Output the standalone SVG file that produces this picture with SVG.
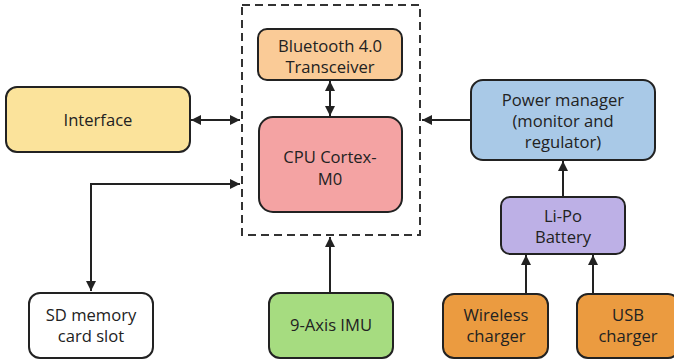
<svg xmlns="http://www.w3.org/2000/svg" width="674" height="360" viewBox="0 0 674 360">
<style>
.box{stroke:#222;stroke-width:2}
.t{font-family:"Open Sans","Noto Sans",sans-serif;font-size:16.6px;fill:#222;text-anchor:middle}
.c{stroke:#222;stroke-width:2;fill:none}
</style>
<defs>
<marker id="ah" viewBox="0 0 10 10" refX="10" refY="5" markerWidth="5" markerHeight="5" orient="auto-start-reverse" markerUnits="strokeWidth">
<path d="M0,0 L10,5 L0,10 z" fill="#222"/>
</marker>
</defs>
<rect width="674" height="360" fill="#fff"/>
<g id="mcu-boundary">
<rect x="242" y="5" width="178" height="230" fill="none" stroke="#333" stroke-width="2" stroke-dasharray="8,5"/>
</g>
<g id="connectors">
<line class="c" x1="191" y1="120" x2="240" y2="120" marker-start="url(#ah)" marker-end="url(#ah)"/>
<line class="c" x1="330" y1="81" x2="330" y2="116" marker-start="url(#ah)" marker-end="url(#ah)"/>
<line class="c" x1="470" y1="120" x2="422" y2="120" marker-end="url(#ah)"/>
<polyline class="c" points="240,184 91,184 91,291" marker-start="url(#ah)" marker-end="url(#ah)"/>
<line class="c" x1="330" y1="292" x2="330" y2="237" marker-end="url(#ah)"/>
<line class="c" x1="563" y1="196" x2="563" y2="161" marker-end="url(#ah)"/>
<line class="c" x1="526" y1="293" x2="526" y2="255" marker-end="url(#ah)"/>
<line class="c" x1="593" y1="293" x2="593" y2="255" marker-end="url(#ah)"/>
</g>
<g id="bluetooth">
<rect class="box" x="258" y="29" width="144" height="51" rx="9" fill="#FACB97"/>
<text class="t" x="330" y="52">Bluetooth 4.0</text>
<text class="t" x="330" y="73">Transceiver</text>
</g>
<g id="cpu">
<rect class="box" x="259" y="117" width="143" height="95" rx="14" fill="#F4A3A3"/>
<text class="t" x="330" y="163">CPU Cortex-</text>
<text class="t" x="330" y="185">M0</text>
</g>
<g id="interface">
<rect class="box" x="6" y="87" width="184" height="65" rx="11" fill="#FBE39B"/>
<text class="t" x="98" y="126">Interface</text>
</g>
<g id="power">
<rect class="box" x="471" y="80" width="184" height="80" rx="12" fill="#A9C9E7"/>
<text class="t" x="563" y="106">Power manager</text>
<text class="t" x="563" y="127">(monitor and</text>
<text class="t" x="563" y="148">regulator)</text>
</g>
<g id="lipo">
<rect class="box" x="501" y="197" width="124" height="57" rx="9" fill="#BDB0E6"/>
<text class="t" x="563" y="222">Li-Po</text>
<text class="t" x="563" y="243">Battery</text>
</g>
<g id="sd">
<rect class="box" x="29" y="293" width="124" height="65" rx="11" fill="#fff"/>
<text class="t" x="91" y="321">SD memory</text>
<text class="t" x="91" y="342">card slot</text>
</g>
<g id="imu">
<rect class="box" x="269" y="293" width="124" height="65" rx="11" fill="#A6DC80"/>
<text class="t" x="331" y="331">9-Axis IMU</text>
</g>
<g id="wireless">
<rect class="box" x="443" y="294" width="105" height="64" rx="11" fill="#EB9B40"/>
<text class="t" x="496" y="321">Wireless</text>
<text class="t" x="496" y="342">charger</text>
</g>
<g id="usb">
<rect class="box" x="577" y="294" width="102" height="64" rx="11" fill="#EB9B40"/>
<text class="t" x="628" y="321">USB</text>
<text class="t" x="628" y="342">charger</text>
</g>
</svg>
